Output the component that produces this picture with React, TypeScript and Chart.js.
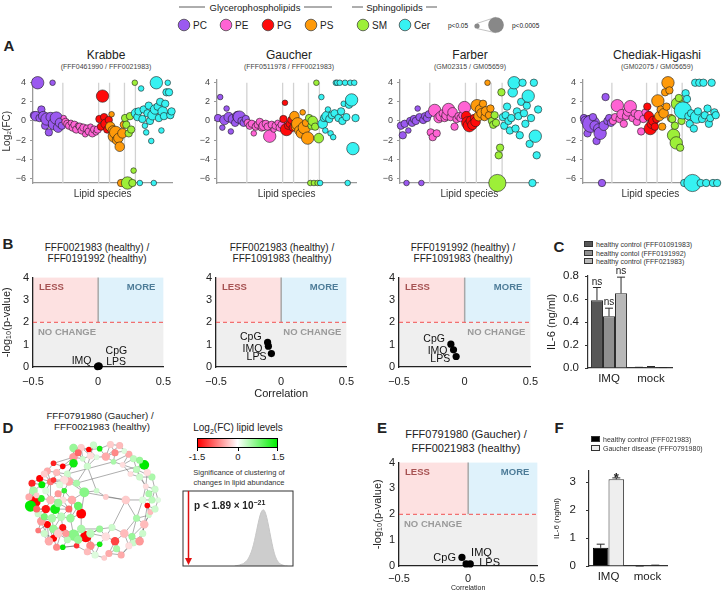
import React, { useEffect, useRef } from 'react';
import { Chart, registerables } from 'chart.js';

Chart.register(...registerables);
const FONT = '"Liberation Sans", Arial, Helvetica, sans-serif';
Chart.defaults.font.family = FONT;
Chart.defaults.color = '#222';

// ---------------- Panel A data ----------------
const CLASSES = ['PC', 'PE', 'PG', 'PS', 'SM', 'Cer'];
const CLASS_BOUNDS = [0, 30, 66, 77, 92, 103, 140]; // lipid-species index ranges per class
const A_YTICKS = [4, 2, 0, -2, -4, -6];
// each point: [log2FC, significance size class 1..5]
const KRABBE_PC = [[0.6,2],[0.5,3],[4,4],[0.3,2],[1.2,2],[0.5,3],[-0.5,2],[0.2,4],[-1.2,2],[0.4,3],[4,1],[-0.3,4],[0.3,4],[-0.7,3],[-0.2,3],[-0.5,2]];
const KRABBE_PE = [[0.3,1],[-0.1,2],[-0.3,2],[-0.5,2],[-0.2,1],[-0.7,2],[-0.4,2],[-0.9,2],[-0.5,1],[-0.6,2],[-1.0,2],[-0.7,2],[-1.4,1],[-0.8,2],[-1.1,2],[-0.6,1],[-1.3,2],[-0.9,2],[-1.2,1],[-0.9,2]];
const KRABBE_PG = [[0.2,2],[-0.6,2],[2.6,4],[0.4,2],[-0.3,3],[-0.9,2],[0.1,2]];
const KRABBE_PS = [[-0.6,3],[0.7,1],[-1.0,3],[-1.6,4],[-1.2,4],[-2.0,3],[-1.8,3],[-2.7,3],[-6.5,2],[-1.3,3],[-0.4,2]];
const KRABBE_SM = [[0.3,2],[-0.4,2],[-6.5,4],[-1.3,2],[0.5,2],[-0.9,2],[-6.5,2],[-5.2,1],[4,1]];
const KRABBE_CER = [[0.8,3],[0.4,2],[1.0,2],[-6.5,1],[3.4,1],[0.2,2],[1.2,2],[-0.5,1],[-1.2,1],[0.8,2],[1.6,2],[0.0,2],[-2.1,1],[0.6,3],[-6.5,1],[1.2,3],[4.0,4],[1.5,2],[0.3,2],[2.0,2],[-1.0,1],[1.0,3],[0.5,2],[1.8,2],[3.0,2],[4.0,1],[3.0,2],[0.6,2],[1.0,2]];

const GAUCHER_PC = [[0.3,2],[2.5,1],[-0.7,1],[0.1,3],[1.3,1],[0.4,3],[-1.1,1],[0.2,3],[-0.2,2],[0.5,3],[0.4,4],[0.0,2],[-0.2,2],[0.2,2]];
const GAUCHER_PE = [[-0.2,2],[-0.5,2],[-0.3,2],[-1.3,1],[-0.6,2],[-0.4,2],[-0.1,2],[-0.7,2],[-0.5,3],[-0.3,2],[-0.6,2],[-1.6,4],[-0.4,2],[-0.9,1],[-0.5,2],[-0.2,1],[-0.7,2],[-0.4,2]];
const GAUCHER_PG = [[0.2,2],[1.9,1],[-0.9,4],[-0.5,2],[-0.3,2],[0.1,2],[-0.7,2]];
const GAUCHER_PS = [[0.5,3],[-0.6,3],[-0.3,4],[-1.0,3],[-1.3,3],[0.9,1],[-0.7,4],[-0.2,2],[-1.8,4]];
const GAUCHER_SM = [[0.3,2],[-6.5,1],[-0.5,2],[0.0,3],[-6.5,1],[-0.6,2],[4.0,1],[-6.5,1],[-1.8,3]];
const GAUCHER_CER = [[-6.5,1],[2.5,1],[-0.3,3],[0.3,2],[-1.0,1],[0.5,3],[1.2,1],[0.2,2],[-1.3,1],[0.6,2],[-1.7,1],[0.8,2],[4.0,1],[4.0,1],[0.3,2],[4.0,1],[1.0,2],[0.0,2],[1.8,1],[4.0,1],[0.4,2],[-6.5,1],[1.7,2],[4.0,1],[2.2,4],[-2.9,4],[4.0,1],[0.3,2]];

const FARBER_PC = [[-0.5,2],[-1.5,2],[-0.3,2],[-6.5,1],[-1.0,1],[0.0,2],[-0.2,2],[0.2,2],[0.0,2],[1.3,1],[0.4,2],[-6.5,1],[0.1,2],[0.5,2],[0.3,2],[0.7,2]];
const FARBER_PE = [[-1.2,2],[-1.7,2],[1.1,4],[-1.3,2],[0.3,3],[0.5,3],[0.8,2],[0.3,2],[0.6,3],[1.2,4],[0.4,2],[0.9,3],[-0.6,2],[0.2,2],[0.5,2],[0.3,2],[0.6,2],[1.4,4]];
const FARBER_PG = [[0.5,3],[-0.2,4],[-0.5,4],[0.0,3],[-0.4,3],[0.3,2],[-0.1,3]];
const FARBER_PS = [[1.6,4],[0.5,3],[1.2,3],[0.8,3],[1.8,2],[0.4,2],[1.0,3],[4.0,1],[0.6,2],[1.3,2]];
const FARBER_SM = [[0.0,2],[-0.4,2],[0.6,2],[-0.2,2],[-6.5,5],[-3.6,2],[-2.8,2],[3.0,2]];
const FARBER_CER = [[0.4,2],[-0.5,2],[0.6,2],[1.5,2],[0.0,2],[-1.0,2],[0.3,2],[3.0,3],[4.0,4],[-0.8,2],[1.0,2],[0.5,2],[-1.5,2],[2.0,2],[4.0,2],[0.8,2],[-0.3,2],[1.6,2],[2.6,4],[-2.4,2],[0.3,2],[-6.5,2],[4.0,2],[-1.6,4],[-3.6,2],[1.2,2]];

const CHEDIAK_PC = [[0.3,2],[0.0,3],[-1.3,2],[0.2,2],[-0.3,5],[0.4,2],[-0.5,3],[-2.1,2],[-0.8,3],[-1.3,4],[-6.5,2],[-0.5,3],[2.5,2],[0.0,2],[0.3,2],[-0.2,2]];
const CHEDIAK_PE = [[0.0,2],[0.4,2],[1.6,4],[0.2,2],[0.7,3],[-0.3,2],[0.5,2],[1.0,3],[1.5,4],[0.3,2],[0.8,2],[-0.1,2],[0.6,3],[-1.1,2],[0.2,2],[0.9,2]];
const CHEDIAK_PG = [[1.5,2],[0.5,3],[-0.8,4],[-0.3,3],[0.0,3],[-0.6,2],[0.2,2]];
const CHEDIAK_PS = [[2.1,4],[0.5,3],[1.2,2],[-0.6,2],[0.8,3],[3.0,2],[1.5,2],[4.0,4],[3.2,2],[0.3,2]];
const CHEDIAK_SM = [[0.2,2],[-1.5,4],[-0.5,2],[-2.3,4],[1.8,4],[2.4,2],[-2.8,2],[0.0,2]];
const CHEDIAK_CER = [[1.1,5],[-6.5,2],[2.9,2],[2.3,2],[0.5,2],[-0.3,2],[0.8,2],[-6.5,5],[-0.8,2],[4.0,2],[0.4,4],[1.0,2],[4.0,2],[-6.5,2],[0.2,2],[4.0,2],[0.6,2],[-6.5,2],[1.3,2],[-0.3,2],[0.3,2],[4.0,2],[-6.5,2],[0.9,2],[0.6,2],[-6.5,2]];

// ---------------- Panels B / E data ----------------
const TREATMENTS = ['IMQ', 'CpG', 'LPS'];
const SIG_THRESHOLD = 2;
const B1_CORR = [-0.005, 0.003, 0.008];
const B1_LOGP = [0.02, 0.05, 0.03];
const B2_CORR = [-0.098, -0.104, -0.075];
const B2_LOGP = [0.93, 1.1, 0.6];
const B3_CORR = [-0.085, -0.105, -0.065];
const B3_LOGP = [0.77, 1.02, 0.47];
const E_CORR = [-0.015, -0.045, 0.015];
const E_LOGP = [0.08, 0.33, 0.08];
const CORR_TICKS = [-0.5, 0, 0.5];

// ---------------- Panels C / F data ----------------
const IL6_CATEGORIES = ['IMQ', 'mock'];
const C_SERIES = ['healthy control (FFF01091983)', 'healthy contol (FFF0191992)', 'healthy control (FFF021983)'];
const C_CTRL_A = [0.59, 0.004];
const C_CTRL_A_ERR = [0.11, 0.002];
const C_CTRL_B = [0.45, 0.009];
const C_CTRL_B_ERR = [0.07, 0.004];
const C_CTRL_C = [0.65, 0.003];
const C_CTRL_C_ERR = [0.14, 0.001];
const C_SIG = ['ns', ''];
const C_YTICKS = [0, 0.2, 0.4, 0.6, 0.8];
const F_SERIES = ['healthy control (FFF021983)', 'Gaucher disease (FFF0791980)'];
const F_CTRL = [0.65, 0.0];
const F_CTRL_ERR = [0.13, 0.0];
const F_GAUCHER = [3.1, 0.02];
const F_GAUCHER_ERR = [0.05, 0.01];
const F_SIG = ['*', ''];
const F_YTICKS = [0, 1, 2, 3];

// ---------------- Panel D data ----------------
// network layout coordinates, log2FC and node size
const NET_X = [215,240,265,300,335,365,320,290,270,245,215,395,410,345,375,260,180,215,150,130,160,195,105,80,112,140,150,185,200,225,85,90,75,110,125,155,140,100,180,210,130,110,150,180,205,175,150,135,180,160,215,255,225,240,270,300,320,350,380,330,370,300,340,285,315,410,430,445,420,455,470,440,480,450,445,420,430,470,490,405,250,240,320,385,290,185,95,125,165,120,165,195,100,230,200,460,400,270,
  120,170,95,145,190,120,230,260,355,395,440,465,480,460,455,430,380,350,280,230,70,165];
const NET_Y = [130,128,135,132,118,122,158,160,155,165,160,150,165,175,185,190,190,180,180,205,210,215,230,245,250,240,235,270,240,245,270,305,320,295,330,330,300,345,300,300,380,370,395,390,360,355,425,435,455,455,415,420,450,395,450,445,420,435,410,475,480,395,390,480,490,440,435,380,360,318,300,300,265,255,185,200,225,225,300,420,275,345,290,300,270,235,285,270,280,355,410,430,400,320,330,350,215,410,
  215,250,330,360,410,410,430,470,460,450,410,340,330,280,210,170,140,145,120,145,290,310];
const NET_FC = [0.6,-0.3,-1.5,1.4,-0.3,-0.4,-0.5,0.2,-0.2,0.3,-0.6,-0.5,0.4,0.5,-0.2,0.3,-1.5,1.4,-1.3,-0.5,-0.4,0.3,-1.5,-1.3,1.5,-0.8,-1.2,1.2,-0.5,0.5,0.5,-1.5,1.5,1.3,-1.4,1.4,-0.4,0.3,-0.2,-0.5,-1.5,-0.6,0.6,-1.4,0.6,0.4,-1.5,-0.5,1.5,-0.7,0.7,-1.5,-1.2,0.5,-0.7,1.4,-0.2,-1.1,-0.4,-0.5,-0.5,0.6,0.3,0.2,-0.3,0.3,-0.6,-0.4,0.5,-1.5,0.4,0.2,0.3,-0.2,1.5,0.4,0.3,0.5,0.2,0.6,0.7,-1.5,-0.3,-0.3,0.3,-0.2,-0.3,0.2,-0.6,0.8,-0.3,0.4,-0.8,0.9,-0.9,0.3,-0.2,0.4,
  -0.3,0.2,-0.9,0.5,-0.6,0.3,0.6,-0.4,0.5,-0.2,0.3,-0.4,0.3,0.5,-0.2,0.6,0.2,-0.7,0.3,-0.9,-0.5,0.6];
const NET_SIZE = [3,2.5,2,2,2.5,2.5,3,2,2.5,2,3,2.5,2.5,2,2,2.5,2,3,2,2.5,2.5,2.5,2.5,2.5,2.5,2.5,2,2,3,2.5,3,4,4,2.5,3,3.5,3,2.5,2.5,3,2.5,3,3,2.5,3,3,2.5,3,2,2.5,4,4,2,3,3,2,3,3,3,2.5,2.5,2.5,2.5,2.5,2,2.5,3,3,2.5,2,2.5,2.5,2.5,2,3.5,2.5,2.5,2.5,2,2.5,3.5,3.5,2,3,2,3,2,2.5,2.5,2.5,3,2.5,2,3,2.5,2,2,3,
  2.5,2.5,2.5,3,2.5,2.5,3,2.5,2.5,2.5,2.5,2,2.5,2.5,2.5,2.5,2,2.5,2.5,2.5,2.5,3];
// edges between node ids (1-based)
const NET_EDGES = [[1,2],[2,3],[3,4],[4,5],[5,6],[6,12],[12,13],[7,8],[8,9],[9,10],[10,11],[11,1],[2,9],[3,8],[4,7],[5,7],[7,14],[14,15],[15,13],[12,15],[6,7],[9,16],[16,10],[11,18],[1,10],[8,16],[14,12],[13,76],[13,75],[15,76],
[17,18],[17,19],[19,20],[20,21],[21,22],[22,18],[17,21],[20,23],[23,24],[24,25],[25,26],[26,27],[27,21],[26,29],[29,22],[29,30],[30,16],[28,29],[28,39],[25,31],[23,25],[19,11],[21,29],[26,37],[22,30],[86,29],[86,27],
[31,32],[32,33],[33,34],[34,31],[34,37],[35,37],[35,36],[36,39],[39,40],[40,28],[32,38],[38,35],[38,42],[42,41],[41,43],[43,44],[44,46],[46,45],[45,40],[46,36],[41,47],[47,48],[48,42],[47,50],[50,49],[49,53],[43,47],[36,46],[37,39],[33,38],[24,31],[40,82],[45,82],[44,50],[35,42],
[51,52],[52,53],[51,54],[54,52],[52,55],[55,56],[56,57],[57,58],[58,59],[59,80],[80,66],[66,67],[55,64],[64,65],[65,60],[60,61],[61,66],[58,60],[57,62],[62,63],[63,59],[54,62],[56,64],[51,45],[53,49],[51,43],[44,51],[57,63],[58,61],
[67,68],[68,69],[69,72],[72,71],[71,70],[70,68],[71,73],[73,74],[74,77],[77,76],[76,75],[75,78],[78,73],[79,71],[79,73],[72,74],[77,78],[69,80],[59,69],[84,72],[84,69],[68,80],
[81,84],[81,30],[81,85],[85,83],[83,84],[30,75],[22,14],[82,54],[82,81],[40,81],[63,84],[16,85],[29,81],
[87,31],[87,34],[87,32],[88,25],[88,26],[88,37],[89,37],[89,39],[89,28],[90,38],[90,42],[90,35],[91,43],[91,44],[91,47],[92,51],[92,91],[92,49],[93,41],[93,42],[93,48],[94,40],[94,45],[94,82],[95,39],[95,46],[95,36],[96,68],[96,70],[96,69],[97,76],[97,15],[97,77],[98,52],[98,55],[98,62],[98,54],
[99,20],[99,23],[99,26],[100,26],[100,29],[100,28],[101,32],[101,38],[101,35],[102,36],[102,42],[102,46],[102,43],[103,44],[103,91],[103,92],[104,41],[104,47],[104,93],[105,51],[105,53],[105,52],[106,55],[106,64],[106,53],[107,58],[107,61],[107,60],[108,66],[108,61],[108,80],[109,67],[109,68],[109,66],[110,68],[110,70],[110,96],[111,79],[111,70],[111,96],[112,73],[112,71],[112,74],[113,78],[113,74],[113,75],[114,75],[114,13],[114,12],[115,6],[115,12],[115,116],[116,5],[116,14],[116,7],[117,3],[117,4],[117,9],[118,11],[118,1],[118,2],[118,10],[119,31],[119,33],[119,24],[120,36],[120,39],[120,95],[120,37],
[1,3],[2,10],[11,17],[18,22],[20,26],[23,26],[31,33],[32,34],[35,101],[41,48],[43,46],[51,92],[52,105],[57,98],[62,98],[59,108],[67,80],[68,109],[70,72],[73,112],[74,76],[76,78],[75,12]];
const HIST_BINS = [0.47,0.49,0.51,0.53,0.55,0.57,0.59,0.61,0.63,0.65,0.67,0.69,0.71,0.73,0.75,0.77,0.79,0.81,0.83,0.85,0.87,0.89,0.91,0.93,0.95];
const HIST_COUNTS = [0,0.5,1,2,3,5,8,13,20,30,42,54,63,66,62,52,39,26,15,8,4,2,1,0,0];
const OBSERVED_SCORE = 0.05;

// ---------------- styles ----------------
const CLASS_COLORS = ['#9b59f0', '#ff63d4', '#ff0a0a', '#ff9a0a', '#9def38', '#36f2f2'];
const SIZE_R = [0, 2.8, 3.7, 4.8, 6.2, 8.6];
const NODE_SCALE = 1.4;
const minus = (v: number) => (v < 0 ? '\u2212' + Math.abs(v) : String(v));

const base = (padding: any) => ({
  animation: false,
  responsive: false,
  devicePixelRatio: 1,
  events: [],
  layout: { padding },
  plugins: { legend: { display: false }, tooltip: { enabled: false } },
});

const classLinesPlugin = {
  id: 'classLines',
  beforeDatasetsDraw(chart: any) {
    const { ctx, scales: { x, y }, chartArea } = chart;
    ctx.save();
    ctx.strokeStyle = '#d2d2d2';
    ctx.lineWidth = 1.3;
    CLASS_BOUNDS.slice(1, -1).forEach((b) => {
      const px = x.getPixelForValue(b);
      ctx.beginPath();
      ctx.moveTo(px, y.getPixelForValue(4));
      ctx.lineTo(px, chartArea.bottom);
      ctx.stroke();
    });
    ctx.restore();
  },
};

function bubbleConfig(groups: number[][][], L: number, R: number, yTitle: boolean) {
  return {
    type: 'bubble',
    data: {
      datasets: groups.map((pts, ci) => {
        const lo = CLASS_BOUNDS[ci];
        const step = (CLASS_BOUNDS[ci + 1] - lo) / pts.length;
        return {
          label: CLASSES[ci],
          data: pts.map(([v, s], i) => ({ x: lo + (i + 0.5) * step, y: v, r: SIZE_R[s] })),
          backgroundColor: CLASS_COLORS[ci],
          borderColor: '#1c1c1c',
          borderWidth: 0.6,
          clip: false,
          order: 6 - ci,
        };
      }),
    },
    options: {
      ...base({ top: 8, right: R, left: 0, bottom: 0 }),
      scales: {
        x: {
          type: 'linear', min: CLASS_BOUNDS[0], max: CLASS_BOUNDS[6],
          ticks: { display: false },
          grid: { display: false, drawTicks: false },
          border: { color: '#9a9a9a', width: 1.3 },
          title: { display: true, text: 'Lipid species', font: { size: 10 }, color: '#333', padding: { top: 0, bottom: 3 } },
          afterFit: (s: any) => { s.height = 20; },
        },
        y: {
          type: 'linear', min: -6.5, max: 4.35,
          afterBuildTicks: (s: any) => { s.ticks = A_YTICKS.map((value) => ({ value })); },
          ticks: { font: { size: 9 }, color: '#444', padding: 4, callback: (v: any) => minus(Number(v)) },
          grid: { drawOnChartArea: false, drawTicks: true, tickLength: 3, color: '#9a9a9a' },
          border: { color: '#9a9a9a', width: 1.3 },
          title: { display: yTitle, text: 'Log\u2082(FC)', font: { size: 10 }, color: '#333', padding: { top: 1, bottom: 0 } },
          afterFit: (s: any) => { s.width = L; },
        },
      },
    },
    plugins: [classLinesPlugin],
  };
}

function regionsPlugin(noChangeAlign: string) {
  return {
    id: 'regions',
    beforeDraw(chart: any) {
      const { ctx, chartArea: a, scales: { x, y } } = chart;
      const x0 = x.getPixelForValue(0);
      const y2 = y.getPixelForValue(SIG_THRESHOLD);
      ctx.save();
      ctx.fillStyle = '#fde1e1';
      ctx.fillRect(a.left, a.top, x0 - a.left, y2 - a.top);
      ctx.fillStyle = '#dff2fb';
      ctx.fillRect(x0, a.top, a.right - x0, y2 - a.top);
      ctx.fillStyle = '#efefef';
      ctx.fillRect(a.left, y2, a.right - a.left, a.bottom - y2);
      ctx.restore();
    },
    beforeDatasetsDraw(chart: any) {
      const { ctx, chartArea: a, scales: { x, y } } = chart;
      const x0 = x.getPixelForValue(0);
      const y2 = y.getPixelForValue(SIG_THRESHOLD);
      ctx.save();
      ctx.strokeStyle = '#a8a8a8';
      ctx.lineWidth = 1.5;
      ctx.beginPath(); ctx.moveTo(x0, a.top); ctx.lineTo(x0, y2); ctx.stroke();
      ctx.strokeStyle = '#f25050';
      ctx.lineWidth = 1;
      ctx.setLineDash([4, 3]);
      ctx.beginPath(); ctx.moveTo(a.left, y2); ctx.lineTo(a.right, y2); ctx.stroke();
      ctx.setLineDash([]);
      ctx.font = `bold 9.5px ${FONT}`;
      ctx.textBaseline = 'middle';
      ctx.textAlign = 'left';
      ctx.fillStyle = '#a65252';
      ctx.fillText('LESS', a.left + 6, a.top + 10);
      ctx.textAlign = 'right';
      ctx.fillStyle = '#4d7c98';
      ctx.fillText('MORE', a.right - 8, a.top + 10);
      ctx.fillStyle = '#9a9a9a';
      ctx.textAlign = noChangeAlign as any;
      ctx.fillText('NO CHANGE', noChangeAlign === 'left' ? a.left + 5 : a.right - 5, y2 + 10);
      ctx.restore();
    },
  };
}

function pointLabelsPlugin(offsets: any[], size: number) {
  return {
    id: 'pointLabels',
    afterDatasetsDraw(chart: any) {
      const { ctx } = chart;
      const meta = chart.getDatasetMeta(0);
      ctx.save();
      ctx.font = `${size}px ${FONT}`;
      ctx.fillStyle = '#111';
      ctx.textBaseline = 'middle';
      meta.data.forEach((pt: any, i: number) => {
        const [dx, dy, al] = offsets[i];
        ctx.textAlign = al;
        ctx.fillText(TREATMENTS[i], pt.x + dx, pt.y + dy);
      });
      ctx.restore();
    },
  };
}

function corrConfig(xs: number[], ys: number[], o: any) {
  return {
    type: 'scatter',
    data: {
      datasets: [{
        data: xs.map((x, i) => ({ x, y: ys[i] })),
        backgroundColor: '#000', borderColor: '#000', pointRadius: 3.6, borderWidth: 0, clip: false,
      }],
    },
    options: {
      ...base({ top: 6, right: o.R, left: 0, bottom: 0 }),
      scales: {
        x: {
          type: 'linear', min: -0.5, max: 0.5,
          afterBuildTicks: (s: any) => { s.ticks = CORR_TICKS.map((value) => ({ value })); },
          ticks: { font: { size: 11 }, color: '#222', padding: o.xPad, callback: (v: any) => minus(Number(v)) },
          grid: { drawOnChartArea: false, drawTicks: false },
          border: { color: '#222', width: 1.3 },
          title: { display: !!o.xTitle, text: 'Correlation', font: { size: o.xTitleSize }, color: '#222', padding: { top: 0, bottom: o.xTitlePad } },
          afterFit: (s: any) => { s.height = o.B; },
        },
        y: {
          type: 'linear', min: 0, max: 4,
          ticks: { stepSize: 1, font: { size: 11 }, color: '#222', padding: 4 },
          grid: { drawOnChartArea: false, drawTicks: false },
          border: { color: '#222', width: 1.3 },
          title: { display: !!o.yTitle, text: '-log\u2081\u2080(p-value)', font: { size: 11 }, color: '#222', padding: { top: o.yTitlePad, bottom: 0 } },
          afterFit: (s: any) => { s.width = 33; },
        },
      },
    },
    plugins: [regionsPlugin(o.noChange), pointLabelsPlugin(o.offsets, o.labelSize)],
  };
}

const errorBarsPlugin = {
  id: 'errorBars',
  afterDatasetsDraw(chart: any) {
    const { ctx } = chart;
    const y = chart.scales.y;
    ctx.save();
    chart.data.datasets.forEach((ds: any, di: number) => {
      const meta = chart.getDatasetMeta(di);
      meta.data.forEach((bar: any, i: number) => {
        const top = y.getPixelForValue(ds.data[i] + ds.errors[i]);
        ctx.strokeStyle = '#2a2a2a';
        ctx.lineWidth = 1;
        ctx.beginPath();
        ctx.moveTo(bar.x, bar.y); ctx.lineTo(bar.x, top);
        ctx.moveTo(bar.x - 4, top); ctx.lineTo(bar.x + 4, top);
        ctx.stroke();
        const m = ds.marks && ds.marks[i];
        if (m) {
          ctx.fillStyle = '#222';
          ctx.textAlign = 'center';
          ctx.textBaseline = 'alphabetic';
          ctx.font = ds.markFont;
          ctx.fillText(m, bar.x, top + ds.markDy);
        }
      });
    });
    ctx.restore();
  },
};

function barConfig(datasets: any[], o: any) {
  return {
    type: 'bar',
    data: { labels: IL6_CATEGORIES, datasets },
    options: {
      ...base({ top: o.T, right: 8, left: 0, bottom: 0 }),
      datasets: { bar: { categoryPercentage: o.cat, barPercentage: 1 } },
      scales: {
        x: {
          ticks: { font: { size: 11.5 }, color: '#222', padding: 4 },
          grid: { display: false, drawTicks: false },
          border: { color: '#333', width: 1.2 },
          afterFit: (s: any) => { s.height = 18; },
        },
        y: {
          min: 0, max: o.max,
          afterBuildTicks: (s: any) => { s.ticks = o.ticks.map((value: number) => ({ value })); },
          ticks: { font: { size: 11.5 }, color: '#222', padding: o.tickPad, callback: o.fmt },
          grid: { drawOnChartArea: false, drawTicks: true, tickLength: 3, color: '#333' },
          border: { color: '#333', width: 1.2 },
          title: { display: true, text: 'IL-6 (ng/ml)', font: { size: o.titleSize }, color: '#222', padding: { top: 0, bottom: 0 } },
          afterFit: (s: any) => { s.width = o.L; },
        },
      },
    },
    plugins: [errorBarsPlugin],
  };
}

function fcColor(v: number) {
  const t = Math.max(-1, Math.min(1, v / 1.5));
  if (t < 0) {
    const k = Math.round(255 * (1 + t));
    return `rgb(255,${k},${k})`;
  }
  const k = Math.round(255 * (1 - t));
  return `rgb(${k},${Math.round(255 - 20 * t)},${k})`;
}

const edgesPlugin = {
  id: 'edges',
  beforeDatasetsDraw(chart: any) {
    const { ctx, scales: { x, y } } = chart;
    ctx.save();
    ctx.strokeStyle = 'rgba(85,85,85,0.8)';
    ctx.lineWidth = 0.6;
    ctx.beginPath();
    NET_EDGES.forEach(([a, b]) => {
      ctx.moveTo(x.getPixelForValue(NET_X[a - 1]), y.getPixelForValue(NET_Y[a - 1]));
      ctx.lineTo(x.getPixelForValue(NET_X[b - 1]), y.getPixelForValue(NET_Y[b - 1]));
    });
    ctx.stroke();
    ctx.restore();
  },
};

const networkConfig = () => ({
  type: 'scatter',
  data: {
    datasets: [{
      data: NET_X.map((x, i) => ({ x, y: NET_Y[i] })),
      pointRadius: NET_SIZE.map((s) => s * NODE_SCALE),
      backgroundColor: NET_FC.map(fcColor),
      borderColor: 'rgba(0,0,0,0.06)',
      borderWidth: 0.4,
      clip: false,
    }],
  },
  options: {
    ...base(0),
    scales: {
      x: { type: 'linear', display: false, min: 54, max: 519 },
      y: { type: 'linear', display: false, min: 84, max: 513, reverse: true },
    },
  },
  plugins: [edgesPlugin],
});

const histFramePlugin = {
  id: 'histFrame',
  afterDatasetsDraw(chart: any) {
    const { ctx, chartArea: a, scales: { x } } = chart;
    ctx.save();
    ctx.strokeStyle = '#333';
    ctx.lineWidth = 1;
    ctx.strokeRect(a.left, a.top, a.right - a.left, a.bottom - a.top);
    const px = x.getPixelForValue(OBSERVED_SCORE);
    ctx.strokeStyle = '#e01010';
    ctx.fillStyle = '#e01010';
    ctx.lineWidth = 1.5;
    ctx.beginPath(); ctx.moveTo(px, a.top); ctx.lineTo(px, a.bottom - 6); ctx.stroke();
    ctx.beginPath(); ctx.moveTo(px - 3.5, a.bottom - 8); ctx.lineTo(px + 3.5, a.bottom - 8); ctx.lineTo(px, a.bottom - 1); ctx.closePath(); ctx.fill();
    ctx.restore();
  },
};

const histConfig = () => ({
  type: 'line',
  data: {
    datasets: [{
      data: HIST_BINS.map((x, i) => ({ x, y: HIST_COUNTS[i] })),
      fill: 'origin', backgroundColor: '#cdcdcd', borderColor: '#c6c6c6', borderWidth: 1, pointRadius: 0, tension: 0.35,
    }],
  },
  options: {
    ...base(2),
    scales: {
      x: { type: 'linear', display: false, min: 0, max: 1 },
      y: { type: 'linear', display: false, min: 0, max: 88 },
    },
  },
  plugins: [histFramePlugin],
});

// ---------------- components ----------------
function ChartCanvas({ box, make }: any) {
  const ref = useRef<HTMLCanvasElement>(null);
  useEffect(() => {
    const c = new Chart(ref.current as HTMLCanvasElement, make());
    return () => c.destroy();
  }, []);
  return (
    <canvas ref={ref} width={box[2]} height={box[3]}
      style={{ position: 'absolute', left: box[0], top: box[1], width: box[2], height: box[3] }} />
  );
}

function T({ x, y, s = 10, c = '#222', b = false, a = 'center', children }: any) {
  const tx = a === 'center' ? '-50%' : a === 'right' ? '-100%' : '0';
  return (
    <div style={{ position: 'absolute', left: x, top: y, transform: `translate(${tx}, -50%)`, fontSize: s, color: c,
      fontWeight: b ? 'bold' : 'normal', whiteSpace: 'nowrap', lineHeight: 1, fontFamily: FONT }}>{children}</div>
  );
}

const LEG_X = [184, 226, 268, 311, 363, 405];

function Header() {
  return (
    <svg width={727} height={40} style={{ position: 'absolute', left: 0, top: 0 }} fontFamily={FONT}>
      <g stroke="#333" strokeWidth={0.8}>
        <line x1={179} y1={7} x2={205} y2={7} />
        <line x1={304} y1={7} x2={332} y2={7} />
        <line x1={352} y1={7} x2={363} y2={7} />
        <line x1={426} y1={7} x2={437} y2={7} />
      </g>
      <text x={255} y={10.5} fontSize={9.5} textAnchor="middle" fill="#222">Glycerophospholipids</text>
      <text x={394.5} y={10.5} fontSize={9.5} textAnchor="middle" fill="#222">Sphingolipids</text>
      {CLASSES.map((c, i) => (
        <g key={c}>
          <circle cx={LEG_X[i]} cy={25} r={5.8} fill={CLASS_COLORS[i]} stroke="#333" strokeWidth={0.7} />
          <text x={LEG_X[i] + 9} y={28.5} fontSize={10} fill="#222">{c}</text>
        </g>
      ))}
      <text x={448} y={28} fontSize={6.5} fill="#222">p&lt;0.05</text>
      <line x1={477} y1={23.4} x2={496} y2={17.2} stroke="#999" strokeWidth={0.6} />
      <line x1={477} y1={28.6} x2={496} y2={32.8} stroke="#999" strokeWidth={0.6} />
      <circle cx={477} cy={26} r={2.6} fill="#888" />
      <circle cx={496} cy={25} r={7.8} fill="#888" />
      <text x={512} y={28} fontSize={6.5} fill="#222">p&lt;0.0005</text>
    </svg>
  );
}

function LegendBox({ x, y, color, text }: any) {
  return (
    <>
      <div style={{ position: 'absolute', left: x, top: y - 3, width: 9, height: 6, background: color, border: '0.7px solid #333', boxSizing: 'border-box' }} />
      <T x={x + 12} y={y} s={7} c="#333" a="left">{text}</T>
    </>
  );
}

export default function App() {
  return (
    <div style={{ position: 'absolute', left: 0, top: 0, width: 727, height: 594, background: '#fff', overflow: 'hidden', fontFamily: FONT }}>
      <Header />
      {/* Panel letters */}
      <T x={9} y={45} s={15} b>A</T>
      <T x={8} y={243} s={15} b>B</T>
      <T x={559} y={246} s={15} b>C</T>
      <T x={8} y={427} s={15} b>D</T>
      <T x={382} y={427} s={15} b>E</T>
      <T x={559} y={427} s={15} b>F</T>

      {/* Panel A */}
      <T x={106} y={55} s={12}>Krabbe</T>
      <T x={106} y={66} s={7} c="#444">(FFF0461990 / FFF0021983)</T>
      <T x={289} y={55} s={12}>Gaucher</T>
      <T x={289} y={66} s={7} c="#444">(FFF0511978 / FFF0021983)</T>
      <T x={470} y={55} s={12}>Farber</T>
      <T x={470} y={66} s={7} c="#444">(GM02315 / GM05659)</T>
      <T x={657} y={55} s={12}>Chediak-Higashi</T>
      <T x={657} y={66} s={7} c="#444">(GM02075 / GM05659)</T>
      <ChartCanvas box={[0, 70, 179, 133]} make={() => bubbleConfig([KRABBE_PC, KRABBE_PE, KRABBE_PG, KRABBE_PS, KRABBE_SM, KRABBE_CER], 33, 6, true)} />
      <ChartCanvas box={[193, 70, 170, 133]} make={() => bubbleConfig([GAUCHER_PC, GAUCHER_PE, GAUCHER_PG, GAUCHER_PS, GAUCHER_SM, GAUCHER_CER], 24, 6, false)} />
      <ChartCanvas box={[376, 70, 172, 133]} make={() => bubbleConfig([FARBER_PC, FARBER_PE, FARBER_PG, FARBER_PS, FARBER_SM, FARBER_CER], 24, 6, false)} />
      <ChartCanvas box={[559, 70, 168, 133]} make={() => bubbleConfig([CHEDIAK_PC, CHEDIAK_PE, CHEDIAK_PG, CHEDIAK_PS, CHEDIAK_SM, CHEDIAK_CER], 24, 2, false)} />

      {/* Panel B */}
      <T x={97} y={248} s={10}>FFF0021983 (healthy) /</T>
      <T x={97} y={259} s={10}>FFF0191992 (healthy)</T>
      <T x={282} y={248} s={10}>FFF0021983 (healthy) /</T>
      <T x={282} y={259} s={10}>FFF1091983 (healthy)</T>
      <T x={463} y={248} s={10}>FFF0191992 (healthy) /</T>
      <T x={463} y={259} s={10}>FFF1091983 (healthy)</T>
      <ChartCanvas box={[0, 267, 179, 118]} make={() => corrConfig(B1_CORR, B1_LOGP, {
        R: 12, B: 18, xPad: 8, yTitle: true, yTitlePad: 0.5, noChange: 'left', labelSize: 10.5,
        offsets: [[-6, -5, 'right'], [7, -15, 'left'], [7, -4, 'left']] })} />
      <ChartCanvas box={[183, 267, 179, 134]} make={() => corrConfig(B2_CORR, B2_LOGP, {
        R: 12, B: 34, xPad: 8, xTitle: true, xTitleSize: 11, xTitlePad: 0.5, noChange: 'right', labelSize: 10.5,
        offsets: [[-6, 3, 'right'], [-6, -5, 'right'], [-5, 4, 'right']] })} />
      <ChartCanvas box={[366, 267, 180, 118]} make={() => corrConfig(B3_CORR, B3_LOGP, {
        R: 12, B: 18, xPad: 8, noChange: 'right', labelSize: 10.5,
        offsets: [[-6, 1, 'right'], [-6, -5, 'right'], [-6, 3, 'right']] })} />

      {/* Panel C */}
      <LegendBox x={584} y={244} color="#575757" text={C_SERIES[0]} />
      <LegendBox x={584} y={252.5} color="#8f8f8f" text={C_SERIES[1]} />
      <LegendBox x={584} y={261} color="#b8b8b8" text={C_SERIES[2]} />
      <ChartCanvas box={[545, 258, 135, 128]} make={() => barConfig([
        { label: C_SERIES[0], data: C_CTRL_A, errors: C_CTRL_A_ERR, marks: C_SIG, markFont: `10px ${FONT}`, markDy: -3, backgroundColor: '#575757', borderColor: '#2a2a2a', borderWidth: 1 },
        { label: C_SERIES[1], data: C_CTRL_B, errors: C_CTRL_B_ERR, marks: C_SIG, markFont: `10px ${FONT}`, markDy: -3, backgroundColor: '#8f8f8f', borderColor: '#2a2a2a', borderWidth: 1 },
        { label: C_SERIES[2], data: C_CTRL_C, errors: C_CTRL_C_ERR, marks: C_SIG, markFont: `10px ${FONT}`, markDy: -3, backgroundColor: '#b8b8b8', borderColor: '#2a2a2a', borderWidth: 1 },
      ], { T: 18, L: 43, max: 0.8, ticks: C_YTICKS, tickPad: 6, titleSize: 11, cat: 0.86, fmt: (v: any) => Number(v).toFixed(1) })} />

      {/* Panel D */}
      <T x={100} y={416} s={9.7}>FFF0791980 (Gaucher) /</T>
      <T x={102} y={427} s={9.7}>FFF0021983 (healthy)</T>
      <ChartCanvas box={[18, 428, 155, 143]} make={networkConfig} />
      <T x={238} y={429} s={10}>Log<sub style={{ fontSize: 7 }}>2</sub>(FC) lipid levels</T>
      <div style={{ position: 'absolute', left: 197, top: 438, width: 81, height: 10, border: '1px solid #000', boxSizing: 'border-box',
        background: 'linear-gradient(to right, #ff0000, #ffffff 50%, #00ee00)' }} />
      {[197, 237.5, 277].map((x) => (
        <div key={x} style={{ position: 'absolute', left: x, top: 448, width: 1, height: 3, background: '#000' }} />
      ))}
      <T x={197} y={457} s={9.5}>-1.5</T>
      <T x={238} y={457} s={9.5}>0</T>
      <T x={278} y={457} s={9.5}>1.5</T>
      <T x={239} y={473} s={7.5} c="#333">Significance of clustering of</T>
      <T x={239} y={483} s={7.5} c="#333">changes in lipid abundance</T>
      <ChartCanvas box={[181, 489, 114, 79]} make={histConfig} />
      <T x={194} y={505} s={10} b a="left">p &lt; 1.89 × 10<sup style={{ fontSize: 7 }}>−21</sup></T>

      {/* Panel E */}
      <T x={466} y={434} s={11}>FFF0791980 (Gaucher) /</T>
      <T x={466} y={448} s={11}>FFF0021983 (healthy)</T>
      <ChartCanvas box={[366, 452, 185, 140]} make={() => corrConfig(E_CORR, E_LOGP, {
        R: 12, B: 26, xPad: 6, xTitle: true, xTitleSize: 7, xTitlePad: 0, yTitle: true, yTitlePad: 5.4, noChange: 'left', labelSize: 11,
        offsets: [[5, -11, 'left'], [-6, 0, 'right'], [9, -1, 'left']] })} />

      {/* Panel F */}
      <LegendBox x={591} y={439} color="#000" text={F_SERIES[0]} />
      <LegendBox x={591} y={448} color="#eeeeee" text={F_SERIES[1]} />
      <ChartCanvas box={[552, 454, 123, 130]} make={() => barConfig([
        { label: F_SERIES[0], data: F_CTRL, errors: F_CTRL_ERR, backgroundColor: '#000', borderColor: '#000', borderWidth: 1 },
        { label: F_SERIES[1], data: F_GAUCHER, errors: F_GAUCHER_ERR, marks: F_SIG, markFont: `bold 13px ${FONT}`, markDy: 4.5, backgroundColor: '#eeeeee', borderColor: '#333', borderWidth: 1 },
      ], { T: 10, L: 37, max: 3.4, ticks: F_YTICKS, tickPad: 10, titleSize: 8, cat: 0.8, fmt: (v: any) => String(v) })} />
    </div>
  );
}
